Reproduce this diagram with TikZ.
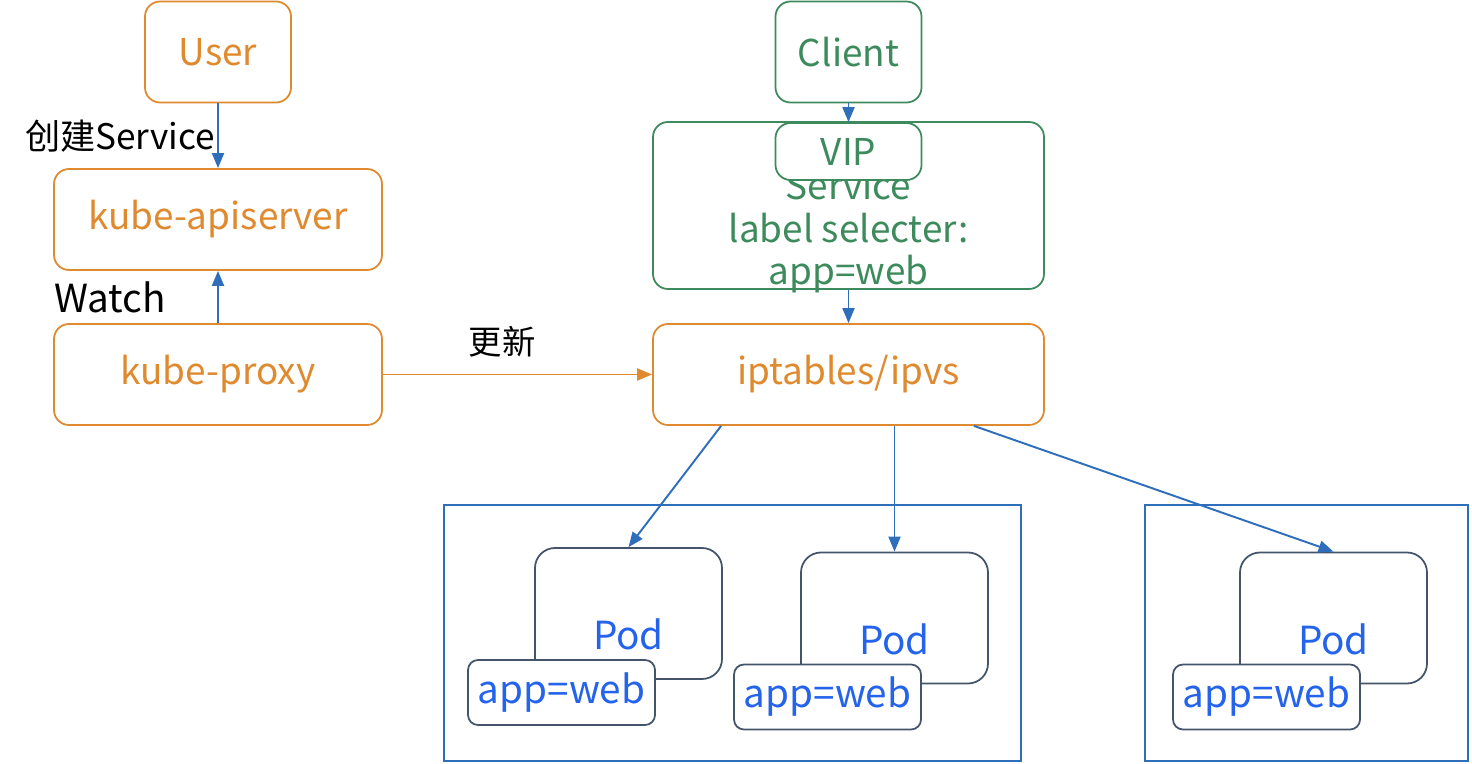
\documentclass[tikz,border=0pt]{standalone}
\usepackage{fontspec}
\setmainfont{Noto Sans CJK SC}
\usetikzlibrary{positioning,arrows.meta}
\definecolor{korange}{HTML}{E08A30}
\definecolor{kgreen}{HTML}{3D8B5C}
\definecolor{karrow}{HTML}{2F6EBA}
\definecolor{kgray}{HTML}{44546A}
\definecolor{kblue}{HTML}{2463EB}

\begin{document}
\begin{tikzpicture}[node distance=3cm,on grid,
    obox/.style={draw=korange,text=korange,line width=1pt,rounded corners=0.3cm,
        minimum width=6.56cm,minimum height=2.02cm,font=\fontsize{21}{25}\selectfont},
    gbox/.style={obox,draw=kgreen,text=kgreen},
    pod/.style={draw=kgray,line width=1pt,rounded corners=0.4cm,
        minimum width=3.74cm,minimum height=2.62cm},
    applabel/.style={draw=kgray,fill=white,text=kblue,line width=1pt,rounded corners=0.2cm,
        minimum width=3.74cm,minimum height=1.3cm,font=\fontsize{22}{26}\selectfont},
    hostbox/.style={draw=karrow,line width=1pt,minimum height=5.12cm},
    lbl/.style={text=black,inner sep=0pt,font=\fontsize{20}{24}\selectfont},
    flow/.style={-{Triangle[length=3mm,width=2.4mm]},color=karrow,line width=1.1pt}]

    \useasboundingbox (0,0) rectangle (29.44,-15.28);

    % left column
    \node[obox,minimum width=2.92cm] (user) at (4.36,-1.04) {User};
    \node[obox] (api) [below=3.35cm of user] {kube-apiserver};
    \node[obox] (proxy) [below=3.1cm of api] {kube-proxy};

    % right column
    \node[obox,minimum width=7.82cm] (ipt) [right=12.61cm of proxy] {iptables/ipvs};
    \node[gbox,minimum width=7.82cm,minimum height=3.34cm,
        label={[text=kgreen,align=center,yshift=-0.53cm,font=\fontsize{21}{24}\selectfont]center:Service\\label selecter:\\app=web}]
        (svc) [above=3.38cm of ipt] {};
    \node[gbox,minimum width=2.92cm] (client) [above=3.07cm of svc] {Client};
    \node[gbox,fill=white,minimum width=2.92cm,minimum height=1.14cm] (vip) [above=1.08cm of svc] {VIP};

    % hosts and pods
    \node[hostbox,minimum width=11.54cm] (host1) at (14.65,-12.66) {};
    \node[hostbox,minimum width=6.46cm] (host2) at (26.13,-12.66) {};
    \foreach \i/\x/\y in {1/12.57/-12.27, 2/17.89/-12.36, 3/26.67/-12.36} {
        \node[pod,label={[text=kblue,yshift=-0.42cm,font=\fontsize{22}{26}\selectfont]center:Pod}]
            (pod\i) at (\x,\y) {};
        \node[applabel] (app\i) [below left=1.58cm and 1.34cm of pod\i] {app=web};
    }

    % connectors
    \path[flow] (user) edge node[left=0.04cm,lbl] {创建Service} (api)
                (proxy) edge (api)
                (client) edge (vip)
                (svc) edge (ipt)
                ([xshift=1.38cm]ipt.south west) edge (pod1.north)
                (ipt.south -| pod2.north) edge (pod2.north)
                ([xshift=-1.42cm]ipt.south east) edge (pod3.north);
    \path[flow,color=korange] (proxy) edge (ipt);

    \node[lbl,anchor=west,font=\fontsize{22}{26}\selectfont] (watch) at (1.08,-5.94) {Watch};
    \node[lbl,font=\fontsize{19}{23}\selectfont] (update) at (10.04,-6.84) {更新};
\end{tikzpicture}
\end{document}
